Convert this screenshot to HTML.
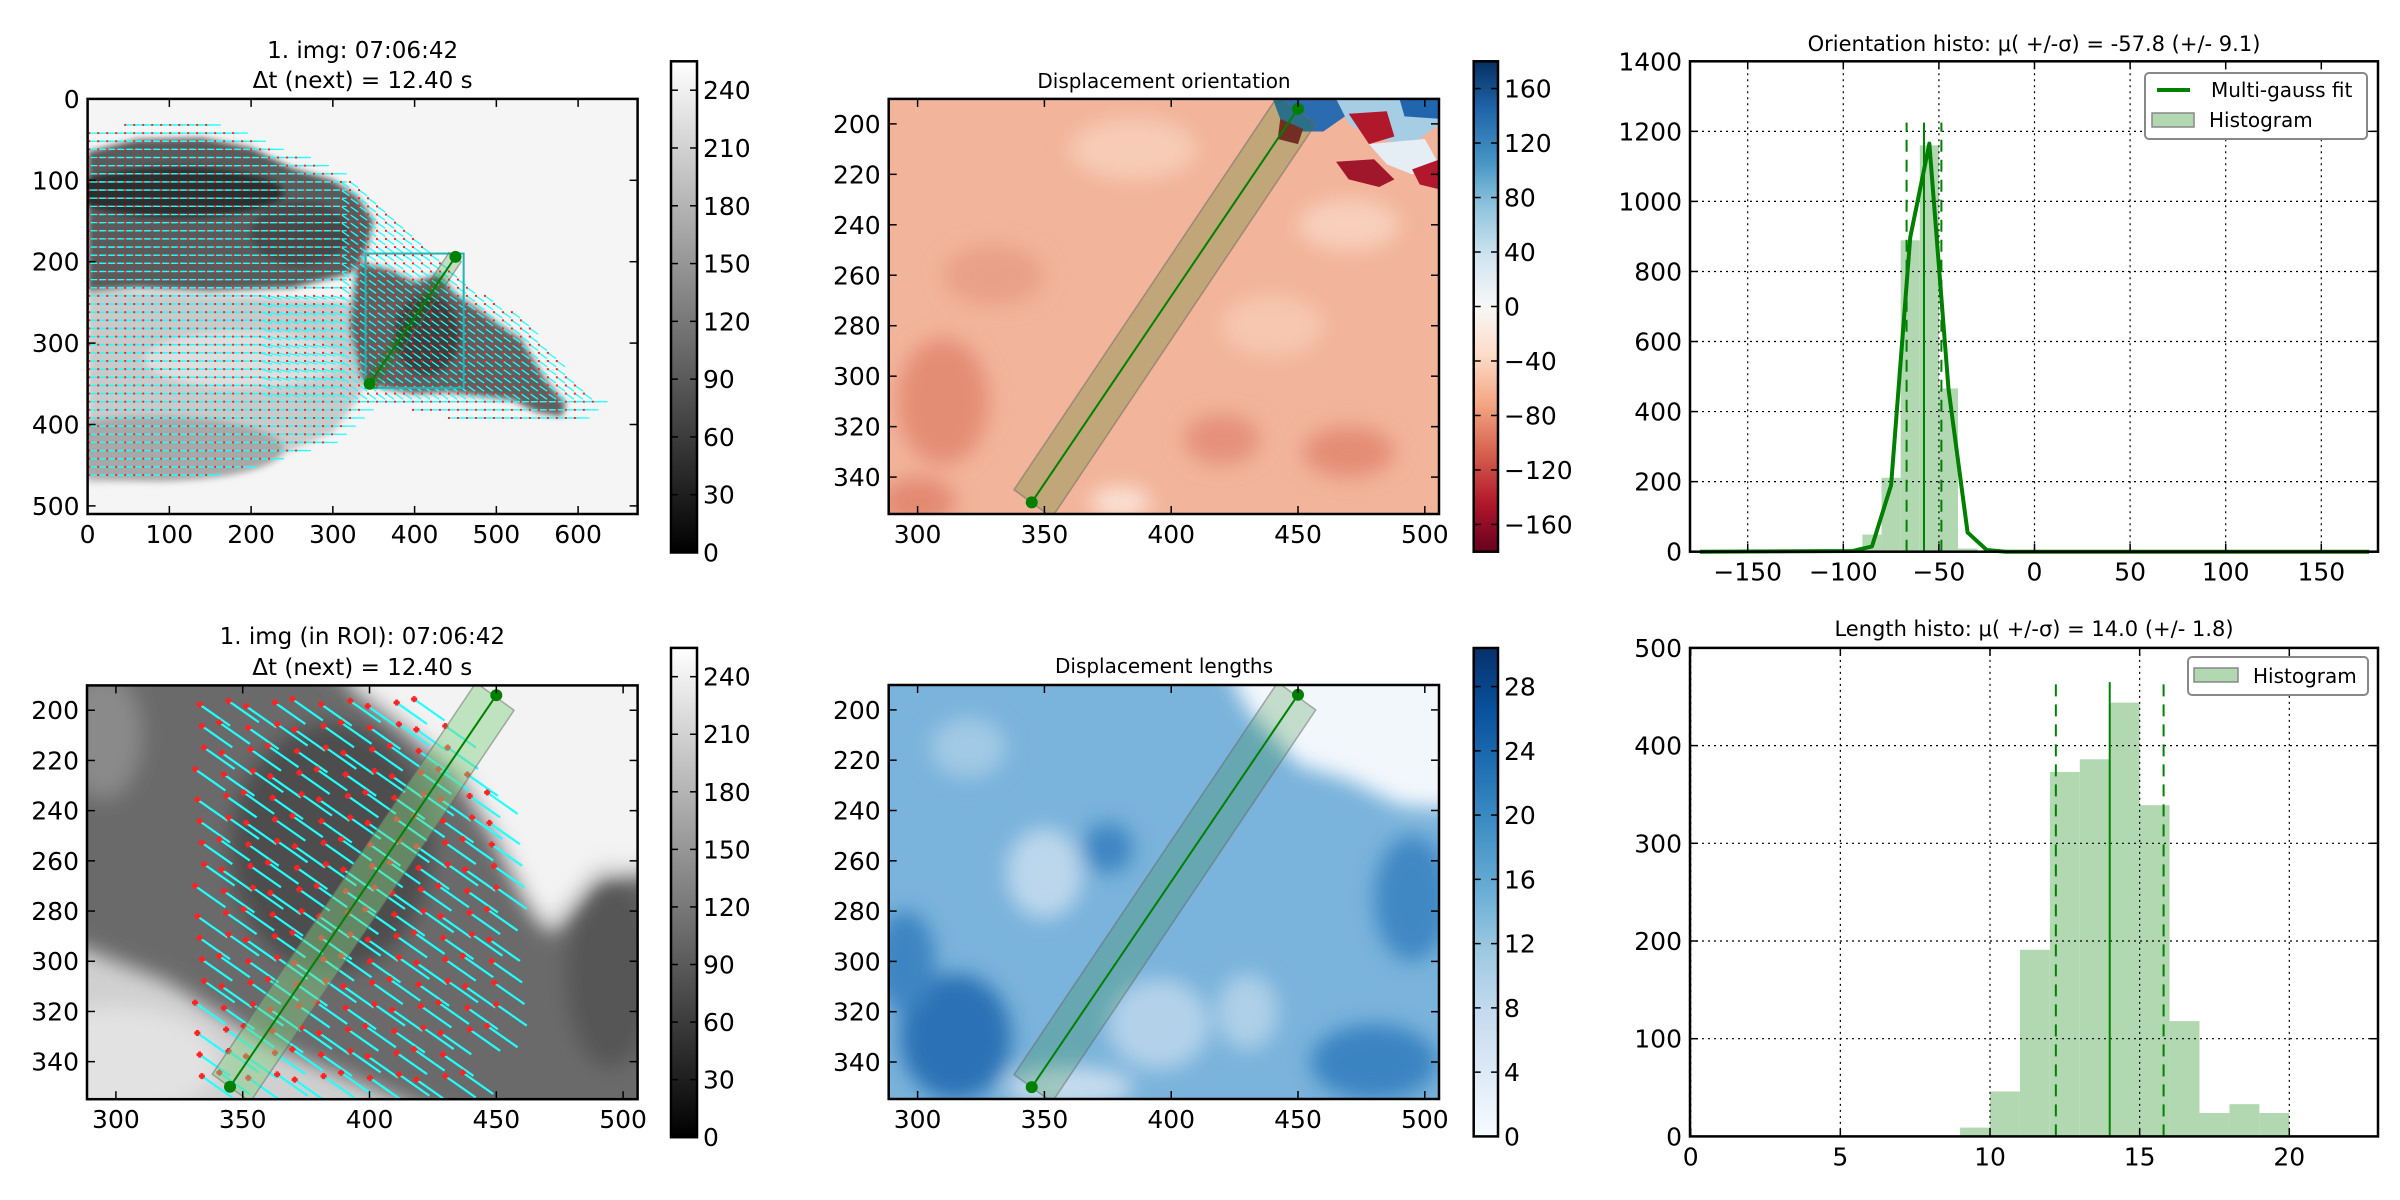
<!DOCTYPE html>
<html><head><meta charset="utf-8"><title>Displacement analysis</title>
<style>html,body{margin:0;padding:0;background:#fff;}svg{display:block;}</style></head>
<body>
<svg id="fig" xmlns="http://www.w3.org/2000/svg" width="2400" height="1200" viewBox="0 0 2400 1200">
<defs>
 <linearGradient id="gGray" x1="0" y1="1" x2="0" y2="0"><stop offset="0" stop-color="#000"/><stop offset="1" stop-color="#fff"/></linearGradient>
 <linearGradient id="gRdBu" x1="0" y1="1" x2="0" y2="0">
  <stop offset="0" stop-color="#67001f"/><stop offset="0.1" stop-color="#b2182b"/><stop offset="0.2" stop-color="#d6604d"/><stop offset="0.3" stop-color="#f4a582"/><stop offset="0.4" stop-color="#fddbc7"/><stop offset="0.5" stop-color="#f7f7f7"/><stop offset="0.6" stop-color="#d1e5f0"/><stop offset="0.7" stop-color="#92c5de"/><stop offset="0.8" stop-color="#4393c3"/><stop offset="0.9" stop-color="#2166ac"/><stop offset="1" stop-color="#053061"/></linearGradient>
 <linearGradient id="gBlues" x1="0" y1="1" x2="0" y2="0">
  <stop offset="0" stop-color="#f7fbff"/><stop offset="0.125" stop-color="#deebf7"/><stop offset="0.25" stop-color="#c6dbef"/><stop offset="0.375" stop-color="#9ecae1"/><stop offset="0.5" stop-color="#6baed6"/><stop offset="0.625" stop-color="#4292c6"/><stop offset="0.75" stop-color="#2171b5"/><stop offset="0.875" stop-color="#08519c"/><stop offset="1" stop-color="#08306b"/></linearGradient>
 <filter id="blur1" x="-20%" y="-20%" width="140%" height="140%"><feGaussianBlur stdDeviation="4"/></filter>
 <filter id="blur2" x="-20%" y="-20%" width="140%" height="140%"><feGaussianBlur stdDeviation="4"/></filter>
 <clipPath id="c1"><rect x="87.6" y="98.9" width="550" height="415.1"/></clipPath>
 <clipPath id="c2"><rect x="888.7" y="98.9" width="550.3" height="415.1"/></clipPath>
 <clipPath id="c4"><rect x="87" y="685.4" width="550.6" height="413.8"/></clipPath>
 <clipPath id="c5"><rect x="888.7" y="685" width="550.3" height="414"/></clipPath>
</defs>

<g clip-path="url(#c1)">
 <g transform="translate(87.6,98.9) scale(0.8175,0.814)">
  <rect x="0" y="0" width="700" height="520" fill="#f5f5f5"/>
  <g filter="url(#blur1)">
   <polygon points="0,235 120,240 250,245 330,250 350,330 330,370 300,410 230,440 150,455 80,468 0,472" fill="#cacaca"/>
   <ellipse cx="80" cy="430" rx="160" ry="40" fill="#a8a8a8"/>
   <ellipse cx="190" cy="320" rx="120" ry="35" fill="#dedede"/>
   <polygon points="0,65 60,50 140,48 200,60 250,85 300,100 330,120 350,150 340,190 320,215 250,232 150,236 60,232 0,236" fill="#5a5a5a"/>
   <ellipse cx="110" cy="115" rx="130" ry="32" fill="#2e2e2e"/>
   <ellipse cx="260" cy="165" rx="60" ry="40" fill="#474747"/>
   <polygon points="330,200 370,210 400,225 430,215 450,240 480,260 500,275 530,295 545,320 560,345 585,375 580,390 550,385 520,370 480,365 440,360 400,362 360,355 335,345 320,280" fill="#5e5e5e"/>
   <ellipse cx="415" cy="290" rx="40" ry="50" fill="#3e3e3e"/>
  </g>
  <g id="quiver1"></g>
 </g>
</g>

<g clip-path="url(#c2)">
 <g transform="translate(156.8,-380.7) scale(2.536,2.523)">
  <rect x="280" y="180" width="240" height="190" fill="#f2b49b"/>
  <g filter="url(#blur2)">
   <ellipse cx="310" cy="310" rx="18" ry="25" fill="#e48d74"/>
   <ellipse cx="300" cy="350" rx="15" ry="10" fill="#e38a72"/>
   <ellipse cx="420" cy="325" rx="15" ry="10" fill="#e5917a"/>
   <ellipse cx="470" cy="330" rx="18" ry="10" fill="#e48d74"/>
   <ellipse cx="330" cy="260" rx="20" ry="12" fill="#e9a088"/>
   <ellipse cx="385" cy="210" rx="25" ry="12" fill="#f7ccb6"/>
   <ellipse cx="470" cy="240" rx="20" ry="10" fill="#f8d0bb"/>
   <ellipse cx="380" cy="350" rx="12" ry="6" fill="#fbe3d6"/>
   <ellipse cx="440" cy="280" rx="20" ry="12" fill="#f7c7b0"/>
  </g>
  <polygon points="440,190 465,190 470,196 460,203 450,203 443,198" fill="#2b6cb0"/>
  <polygon points="465,190 506,190 506,200 495,208 480,206 470,200" fill="#a5cde3"/>
  <polygon points="470,196 485,195 488,205 478,208" fill="#b2182b"/>
  <polygon points="490,190 506,190 506,198 492,197" fill="#2166ac"/>
  <polygon points="478,208 500,206 505,215 495,220 485,216" fill="#e5eef5"/>
  <polygon points="465,215 480,214 488,222 482,225 470,222" fill="#a0162a"/>
  <polygon points="495,218 506,214 506,226 498,224" fill="#b2182b"/>
  <polygon points="443,198 452,202 450,208 442,206" fill="#8a1428"/>
 </g>
</g>

<g clip-path="url(#c4)">
 <g transform="translate(-644.9,208.2) scale(2.536,2.51)">
  <rect x="280" y="180" width="240" height="190" fill="#d0d0d0"/>
  <g filter="url(#blur2)">
   <polygon points="395,180 520,180 520,265 490,262 475,280 465,288 455,262 440,235 420,215 395,200" fill="#f3f3f3"/>
   <polygon points="280,180 380,180 410,203 435,225 450,250 462,275 472,290 490,268 520,262 520,370 450,370 400,350 360,333 320,308 280,292" fill="#6b6b6b"/>
   <ellipse cx="385" cy="255" rx="40" ry="50" fill="#4d4d4d"/>
   <ellipse cx="495" cy="305" rx="18" ry="38" fill="#575757"/>
   <ellipse cx="295" cy="210" rx="15" ry="25" fill="#8a8a8a"/>
   <ellipse cx="300" cy="340" rx="40" ry="22" fill="#e2e2e2"/>
  </g>
  <g id="quiver4"></g>
 </g>
</g>

<g clip-path="url(#c5)">
 <g transform="translate(156.8,206.9) scale(2.536,2.515)">
  <rect x="280" y="180" width="240" height="190" fill="#7ab3db"/>
  <g filter="url(#blur2)">
   <ellipse cx="315" cy="330" rx="22" ry="25" fill="#2a72b5"/>
   <ellipse cx="295" cy="300" rx="12" ry="20" fill="#3c85c2"/>
   <ellipse cx="480" cy="340" rx="25" ry="15" fill="#3b84c2"/>
   <ellipse cx="495" cy="275" rx="15" ry="25" fill="#3f88c4"/>
   <ellipse cx="375" cy="255" rx="10" ry="10" fill="#3d86c3"/>
   <ellipse cx="350" cy="265" rx="15" ry="18" fill="#bcd7ec"/>
   <ellipse cx="395" cy="325" rx="20" ry="18" fill="#b3d2ea"/>
   <ellipse cx="430" cy="320" rx="12" ry="15" fill="#aed0e8"/>
   <ellipse cx="320" cy="215" rx="15" ry="12" fill="#a2c9e5"/>
   <ellipse cx="360" cy="350" rx="25" ry="8" fill="#c6dcee"/>
   <polygon points="420,180 520,180 520,240 490,238 470,228 450,222 430,200" fill="#f2f7fc"/>
  </g>
 </g>
</g>
</svg>
<script>
// ---- Chart data ----
const orientBinStarts = [-90, -80, -70, -60, -50, -40];
const orientCounts = [49, 211, 889, 1160, 466, 9];
const orientBinWidth = 10;
const fitX = [-175, -95, -85, -75, -65, -55, -45, -35, -25, -15, 175];
const fitY = [0, 2, 15, 190, 897, 1165, 466, 55, 5, 0, 0];
const orientStats = [-57.8, 9.1];
const orientXTicks = [-150, -100, -50, 0, 50, 100, 150];
const orientYTicks = [0, 200, 400, 600, 800, 1000, 1200, 1400];

const lenBinStarts = [9, 10, 11, 12, 13, 14, 15, 16, 17, 18, 19];
const lenCounts = [9, 46, 191, 373, 386, 444, 339, 118, 24, 33, 24];
const lenBinWidth = 1;
const lenStats = [14.0, 1.8];
const lenXTicks = [0, 5, 10, 15, 20];
const lenYTicks = [0, 100, 200, 300, 400, 500];

const imgXTicks = [0, 100, 200, 300, 400, 500, 600];
const imgYTicks = [0, 100, 200, 300, 400, 500];
const roiXTicks = [300, 350, 400, 450, 500];
const roiYTicks = [200, 220, 240, 260, 280, 300, 320, 340];
const grayTicks = [0, 30, 60, 90, 120, 150, 180, 210, 240];
const angTicks = [-160, -120, -80, -40, 0, 40, 80, 120, 160];
const lenCbTicks = [0, 4, 8, 12, 16, 20, 24, 28];
const lineP0 = [345, 350];
const lineP1 = [450, 194];

const NS = 'http://www.w3.org/2000/svg';
const svg = document.getElementById('fig');
const FONT = '"DejaVu Sans", "Liberation Sans", sans-serif';
function mk(tag, attrs, parent) {
  const e = document.createElementNS(NS, tag);
  for (const k in attrs) e.setAttribute(k, attrs[k]);
  (parent || svg).appendChild(e);
  return e;
}
function txt(str, x, y, size, anchor, parent) {
  const t = mk('text', {x: x, y: y, 'font-size': size, 'text-anchor': anchor || 'middle', 'font-family': FONT, fill: '#000'}, parent);
  t.textContent = str;
  return t;
}
function fmt(v) { return v < 0 ? '\u2212' + Math.abs(v) : String(v); }

const X1 = x => 87.6 + x * 0.8175, Y1 = y => 98.9 + y * 0.814;
const X2 = x => 888.7 + (x - 288.6) * 2.536, Y2 = y => 98.9 + (y - 190.1) * 2.523;
const X4 = x => 87 + (x - 288.6) * 2.536, Y4 = y => 685.4 + (y - 190.1) * 2.51;
const X5 = X2, Y5 = y => 685 + (y - 190.1) * 2.515;
const X3 = x => 2034.5 + x * 1.912, Y3 = v => 551.7 - v * 0.35029;
const X6 = x => 1690.7 + x * 29.93, Y6 = v => 1136.4 - v * 0.977;

function inPoly(px, py, poly) {
  let c = false;
  for (let i = 0, j = poly.length - 1; i < poly.length; j = i++) {
    const xi = poly[i][0], yi = poly[i][1], xj = poly[j][0], yj = poly[j][1];
    if (((yi > py) !== (yj > py)) && (px < (xj - xi) * (py - yi) / (yj - yi) + xi)) c = !c;
  }
  return c;
}
const mask1 = [[0,40],[80,25],[150,30],[250,70],[330,100],[380,150],[420,190],[470,230],[520,260],[560,300],[590,340],[620,370],[600,392],[450,395],[350,372],[300,420],[200,450],[100,472],[0,472]];
const q1 = document.getElementById('quiver1');
for (let y = 22; y < 475; y += 10) {
  for (let x = 2; x < 625; x += 11) {
    if (!inPoly(x, y, mask1)) continue;
    let dx = 18, dy = 0;
    if (x > 300 && y < 370) { dx = 10; dy = 7; }
    else if (x > 200 && y > 240 && y < 370) { dx = 15; dy = 4; }
    const l = mk('line', {x1: x, y1: y, x2: x + dx, y2: y + dy, stroke: '#2ff', 'stroke-width': 1.3, 'vector-effect': 'non-scaling-stroke'}, q1);
    
    
    const d = mk('rect', {x: x - 1.2, y: y - 1.2, width: 2.4, height: 2.4, fill: '#f22'}, q1);
    
    
  }
}
const q4 = document.getElementById('quiver4');
let k = 0;
for (let y = 197; y < 348; y += 9.3) {
  for (let x = 333; x < 456; x += 9.6) {
    k++;
    const jx = ((k * 7) % 5 - 2) * 0.9, jy = ((k * 13) % 5 - 2) * 0.7;
    const px = x + jx, py = y + jy;
    if (py < 235 && px > 425 + (py - 197) * 0.6) continue;
    if (py > 330 && px > 440) continue;
    const l = mk('line', {x1: px, y1: py, x2: px + 12, y2: py + 8.5, stroke: '#2ff', 'stroke-width': 2.2, 'vector-effect': 'non-scaling-stroke'}, q4);
    
    
    const d = mk('path', {d: 'M' + (px - 1.2) + ',' + py + 'h2.4M' + px + ',' + (py - 1.2) + 'v2.4', stroke: '#f22', 'stroke-width': 3, 'vector-effect': 'non-scaling-stroke'}, q4);
    
    
  }
}

const r1 = mk('rect', {x: X1(340), y: Y1(190), width: X1(460) - X1(340), height: Y1(355) - Y1(190), fill: 'none', stroke: '#1fb5b5', 'stroke-width': 2});


function band(X, Y, fill, op, name, clip) {
  const g = mk('g', {'clip-path': clip});
  
  
  const pts = [[338, 345], [353, 356], [457, 200], [442, 189]].map(p => X(p[0]) + ',' + Y(p[1])).join(' ');
  const b = mk('polygon', {points: pts, fill: fill, 'fill-opacity': op, stroke: '#666', 'stroke-opacity': 0.5, 'stroke-width': 1.5}, g);
  
  
  const l = mk('line', {x1: X(lineP0[0]), y1: Y(lineP0[1]), x2: X(lineP1[0]), y2: Y(lineP1[1]), stroke: '#008000', 'stroke-width': 2}, g);
  
  
  [lineP0, lineP1].forEach(p => {
    const c = mk('circle', {cx: X(p[0]), cy: Y(p[1]), r: 6, fill: '#008000'}, g);
    
    
  });
}
band(X1, Y1, '#008000', 0.2, 'profile-overlay-full', 'url(#c1)');
band(X2, Y2, '#2a7a10', 0.25, 'profile-overlay-orientation', 'url(#c2)');
band(X4, Y4, '#7fd07f', 0.45, 'profile-overlay-roi', 'url(#c4)');
band(X5, Y5, '#208020', 0.22, 'profile-overlay-lengths', 'url(#c5)');

function hist(starts, counts, w, X, Y, name) {
  starts.forEach((s, i) => {
    const r = mk('rect', {x: X(s), y: Y(counts[i]), width: X(s + w) - X(s), height: Y(0) - Y(counts[i]), fill: '#b2d8b2'});
    
    
  });
}
hist(orientBinStarts, orientCounts, orientBinWidth, X3, Y3, 'orientation');
hist(lenBinStarts, lenCounts, lenBinWidth, X6, Y6, 'length');

function grid(xt, yt, X, Y, x0, y0, x1, y1, name) {
  const g = mk('g', {stroke: '#000', 'stroke-width': 1.2, 'stroke-dasharray': '2,4'});
  
  
  xt.forEach(v => mk('line', {x1: X(v), y1: y0, x2: X(v), y2: y1}, g));
  yt.forEach(v => mk('line', {x1: x0, y1: Y(v), x2: x1, y2: Y(v)}, g));
}
grid(orientXTicks, orientYTicks, X3, Y3, 1690, 61.3, 2378, 551.7, 'orientation-grid');
grid(lenXTicks, lenYTicks, X6, Y6, 1690, 647.9, 2378, 1136.4, 'length-grid');

function statLines(st, top, X, Y, name) {
  const vals = [st[0] - st[1], st[0], st[0] + st[1]];
  vals.forEach((v, i) => {
    const l = mk('line', {x1: X(v), y1: Y(0), x2: X(v), y2: Y(top), stroke: '#008000', 'stroke-width': 2});
    if (i !== 1) l.setAttribute('stroke-dasharray', '12,8');
    
    
  });
}
statLines(orientStats, 1225, X3, Y3, 'orientation');
statLines(lenStats, 465, X6, Y6, 'length');

const fit = mk('polyline', {points: fitX.map((x, i) => X3(x) + ',' + Y3(fitY[i])).join(' '), fill: 'none', stroke: '#008000', 'stroke-width': 4, 'stroke-linejoin': 'round'});



function axes(name, x0, y0, x1, y1, xt, X, yt, Y) {
  const g = mk('g', {});
  
  
  xt.forEach(v => {
    const x = X(v);
    mk('line', {x1: x, y1: y1, x2: x, y2: y1 - 8, stroke: '#000', 'stroke-width': 1.5}, g);
    mk('line', {x1: x, y1: y0, x2: x, y2: y0 + 8, stroke: '#000', 'stroke-width': 1.5}, g);
    const t = txt(fmt(v), x, y1 + 29, 25, 'middle', g);
    
    
  });
  yt.forEach(v => {
    const y = Y(v);
    mk('line', {x1: x0, y1: y, x2: x0 + 8, y2: y, stroke: '#000', 'stroke-width': 1.5}, g);
    mk('line', {x1: x1, y1: y, x2: x1 - 8, y2: y, stroke: '#000', 'stroke-width': 1.5}, g);
    const t = txt(fmt(v), x0 - 8, y + 9, 25, 'end', g);
    
    
  });
  mk('rect', {x: x0, y: y0, width: x1 - x0, height: y1 - y0, fill: 'none', stroke: '#000', 'stroke-width': 2.5}, g);
}
axes('full-image-axes', 87.6, 98.9, 637.6, 514, imgXTicks, X1, imgYTicks, Y1);
axes('orientation-field-axes', 888.7, 98.9, 1439, 514, roiXTicks, X2, roiYTicks, Y2);
axes('orientation-histogram-axes', 1690, 61.3, 2378, 551.7, orientXTicks, X3, orientYTicks, Y3);
axes('roi-image-axes', 87, 685.4, 637.6, 1099.2, roiXTicks, X4, roiYTicks, Y4);
axes('length-field-axes', 888.7, 685, 1439, 1099, roiXTicks, X5, roiYTicks, Y5);
axes('length-histogram-axes', 1690, 647.9, 2378, 1136.4, lenXTicks, X6, lenYTicks, Y6);

function cbar(name, x0, y0, x1, y1, vmin, vmax, grad, ticks) {
  const g = mk('g', {});
  
  
  mk('rect', {x: x0, y: y0, width: x1 - x0, height: y1 - y0, fill: 'url(#' + grad + ')'}, g);
  ticks.forEach(v => {
    const y = y1 - (v - vmin) / (vmax - vmin) * (y1 - y0);
    mk('line', {x1: x1, y1: y, x2: x1 - 7, y2: y, stroke: '#000', 'stroke-width': 1.5}, g);
    mk('line', {x1: x0, y1: y, x2: x0 + 7, y2: y, stroke: '#000', 'stroke-width': 1.5}, g);
    const t = txt(fmt(v), x1 + 6, y + 9, 25, 'start', g);
    
    
  });
  mk('rect', {x: x0, y: y0, width: x1 - x0, height: y1 - y0, fill: 'none', stroke: '#000', 'stroke-width': 2.5}, g);
}
cbar('gray-colorbar-top', 671, 61.3, 697, 552.5, 0, 255, 'gGray', grayTicks);
cbar('orientation-colorbar', 1473.7, 61.3, 1498, 551.7, -180, 180, 'gRdBu', angTicks);
cbar('gray-colorbar-bottom', 671, 647.9, 697, 1137.2, 0, 255, 'gGray', grayTicks);
cbar('length-colorbar', 1473.7, 648, 1498, 1136.4, 0, 30.4, 'gBlues', lenCbTicks);

function title(str, x, y, size, name) {
  const t = txt(str, x, y, size, 'middle');
  
  
}
title('1. img: 07:06:42', 362.6, 58, 23, 'full-image-title');
title('\u0394t (next) = 12.40 s', 362.6, 88, 23, 'full-image-subtitle');
title('Displacement orientation', 1164, 88, 20, 'orientation-field-title');
title('Orientation histo: \u03bc( +/-\u03c3) = -57.8 (+/- 9.1)', 2034, 51, 21, 'orientation-histogram-title');
title('1. img (in ROI): 07:06:42', 362.3, 644, 23, 'roi-image-title');
title('\u0394t (next) = 12.40 s', 362.3, 675, 23, 'roi-image-subtitle');
title('Displacement lengths', 1164, 673, 20, 'length-field-title');
title('Length histo: \u03bc( +/-\u03c3) = 14.0 (+/- 1.8)', 2034, 636, 21, 'length-histogram-title');

const lg1 = mk('g', {});


mk('rect', {x: 2145, y: 73, width: 222, height: 66, rx: 4, fill: '#fff', stroke: '#888', 'stroke-width': 2}, lg1);
const le1 = mk('line', {x1: 2157, y1: 90, x2: 2190, y2: 90, stroke: '#008000', 'stroke-width': 4}, lg1);


txt('Multi-gauss fit', 2211, 97, 20, 'start', lg1);
const lp1 = mk('rect', {x: 2152, y: 113, width: 42, height: 14, fill: '#b2d8b2', stroke: '#888', 'stroke-width': 1.5}, lg1);


txt('Histogram', 2209, 127, 20, 'start', lg1);

const lg2 = mk('g', {});


mk('rect', {x: 2188, y: 657, width: 180, height: 38, rx: 4, fill: '#fff', stroke: '#888', 'stroke-width': 2}, lg2);
const lp2 = mk('rect', {x: 2194, y: 668, width: 44, height: 14, fill: '#b2d8b2', stroke: '#888', 'stroke-width': 1.5}, lg2);


txt('Histogram', 2253, 683, 20, 'start', lg2);
</script>
</body></html>
